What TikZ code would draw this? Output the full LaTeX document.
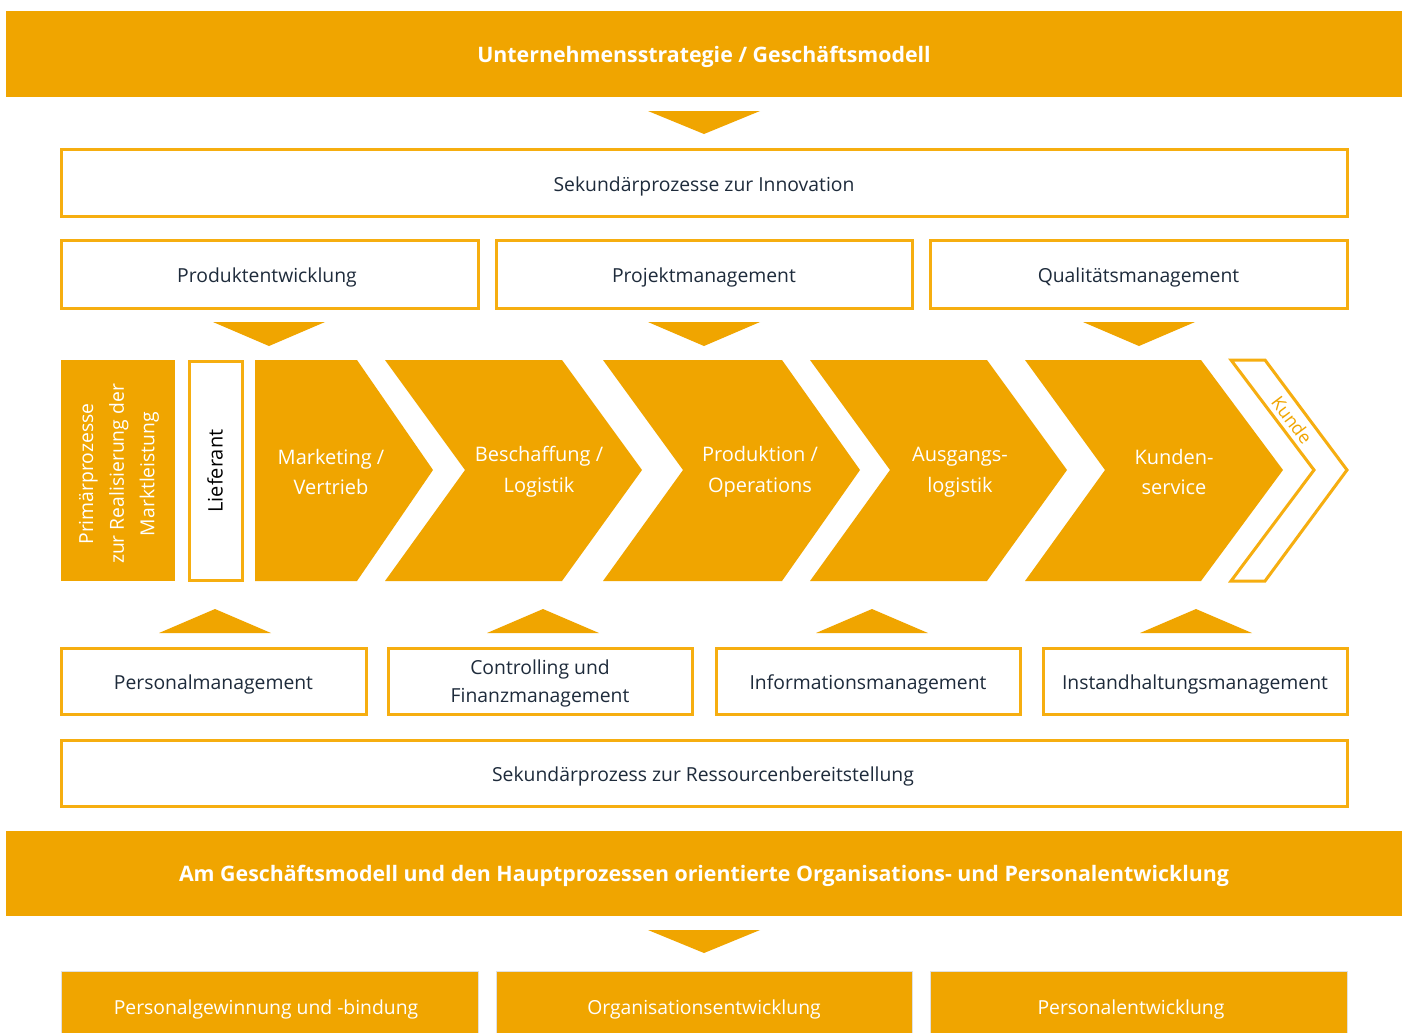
\documentclass[tikz,border=0pt]{standalone}
\usepackage{fontspec}
\setmainfont{Open Sans}
\definecolor{org}{HTML}{F0A500}
\definecolor{orgline}{HTML}{F6AE10}
\definecolor{navy}{HTML}{1E2B3B}
\begin{document}
\begin{tikzpicture}[x=0.75pt,y=-0.75pt,
  wbox/.style={draw=orgline, line width=2.25pt, fill=white, inner sep=0pt, minimum height=50pt},
  wtext/.style={text=navy, font=\fontsize{14.5}{21}\selectfont, align=center, inner sep=0pt},
  obar/.style={fill=org, inner sep=0pt, minimum width=1047pt},
  otext/.style={text=white, font=\bfseries\fontsize{16}{19}\selectfont, inner sep=0pt},
  obox/.style={fill=org, draw=black!12, line width=0.75pt, inner sep=0pt, minimum height=52.5pt},
  btext/.style={text=white, font=\fontsize{14.5}{17}\selectfont, inner sep=0pt},
  tri/.style={fill=org},
  chev/.style={fill=org},
  ctext/.style={text=white, font=\fontsize{15}{23}\selectfont, align=center, inner sep=0pt}]
\useasboundingbox[fill=white] (0,0) rectangle (1406,1032);

% top banner
\node[obar, minimum height=64.5pt] (strat) at (704,54) {};
\node[otext] (stratt) at (704,57) {Unternehmensstrategie / Geschäftsmodell};
\fill[tri] (648,111) -- (760,111) -- (704,134) -- cycle;

% innovation
\node[wbox, minimum width=964.5pt] (inno) at (704,183) {};
\node[wtext] (innot) at (704,186) {Sekundärprozesse zur Innovation};
\node[wbox, minimum width=312.75pt, minimum height=51pt] (prod) at (269.5,274) {};
\node[wtext] (prodt) at (267,277) {Produktentwicklung};
\node[wbox, minimum width=312pt, minimum height=51pt] (proj) at (704,274) {};
\node[wtext] (projt) at (704,277) {Projektmanagement};
\node[wbox, minimum width=312.75pt, minimum height=51pt] (qual) at (1138.5,274) {};
\node[wtext] (qualt) at (1138.5,277) {Qualitätsmanagement};
\foreach \c in {269,704,1139}
  \fill[tri] (\c-56,322) -- (\c+56,322) -- (\c,346) -- cycle;

% primary row
\node[fill=org, inner sep=0pt, minimum width=85.5pt, minimum height=165.75pt] (prim) at (118,470.5) {};
\node[text=white, rotate=90, align=center, font=\fontsize{14.5}{23}\selectfont, inner sep=0pt]
  (primtxt) at (119,474) {Primärprozesse\\zur Realisierung der\\Marktleistung};
\node[draw=orgline, line width=2.25pt, fill=white, inner sep=0pt, minimum width=39.75pt,
  minimum height=164.25pt] (lief) at (215.5,470.5) {};
\node[rotate=90, text=black, font=\fontsize{15}{18}\selectfont, inner sep=0pt] (lieftxt) at (215,471) {Lieferant};

\fill[chev] (255,360) -- (357,360) -- (433,470) -- (357,581) -- (255,581) -- cycle;
\fill[chev] (385,360) -- (562,360) -- (642,470) -- (562,581) -- (385,581) -- (465,470) -- cycle;
\fill[chev] (603,360) -- (782,360) -- (860,470) -- (782,581) -- (603,581) -- (683,470) -- cycle;
\fill[chev] (810,360) -- (987,360) -- (1067,470) -- (987,581) -- (810,581) -- (890,470) -- cycle;
\fill[chev] (1025,360) -- (1201,360) -- (1283,470) -- (1201,581) -- (1025,581) -- (1105,470) -- cycle;
\draw[orgline, line width=2.25pt, fill=white, line join=miter]
  (1231,360) -- (1265,360) -- (1347,470) -- (1265,581) -- (1231,581) -- (1314,470) -- cycle;

\node[ctext] (mkt) at (331,472) {Marketing /\\Vertrieb};
\node[ctext] (besch) at (539,472) {Beschaffung /\\Logistik};
\node[ctext] (produ) at (760,472) {Produktion /\\Operations};
\node[ctext] (ausg) at (960,472) {Ausgangs-\\logistik};
\node[ctext] (kund) at (1174,472) {Kunden-\\service};
\node[text=org, rotate=-53, font=\fontsize{13.5}{15}\selectfont, inner sep=0pt] (kunde) at (1292,420) {Kunde};

% resources
\foreach \c in {215,543,872,1196}
  \fill[tri] (\c-56,633) -- (\c+56,633) -- (\c,609) -- cycle;
\node[wbox, minimum width=228.75pt] (pers) at (213.5,681.5) {};
\node[wtext] (perst) at (213.5,684) {Personalmanagement};
\node[wbox, minimum width=228pt] (contr) at (540,681.5) {};
\node[wtext] (contrt) at (540,683.5) {Controlling und\\Finanzmanagement};
\node[wbox, minimum width=228pt] (info) at (868,681.5) {};
\node[wtext] (infot) at (868,684) {Informationsmanagement};
\node[wbox, minimum width=228pt] (inst) at (1195,681.5) {};
\node[wtext] (instt) at (1195,684) {Instandhaltungsmanagement};
\node[wbox, minimum width=964.5pt] (ress) at (704,773.5) {};
\node[wtext] (resst) at (703,776) {Sekundärprozess zur Ressourcenbereitstellung};

% bottom banner
\node[obar, minimum height=63.75pt] (orga) at (704,873.5) {};
\node[otext] (orgat) at (704,876) {Am Geschäftsmodell und den Hauptprozessen orientierte Organisations- und Personalentwicklung};
\fill[tri] (648,930) -- (760,930) -- (704,953) -- cycle;

\node[obox, minimum width=312.75pt] (gew) at (269.5,1006) {};
\node[btext] (gewt) at (266,1009) {Personalgewinnung und -bindung};
\node[obox, minimum width=312pt] (oe) at (704,1006) {};
\node[btext] (oet) at (704,1009) {Organisationsentwicklung};
\node[obox, minimum width=312.75pt] (pe) at (1138.5,1006) {};
\node[btext] (pet) at (1131,1009) {Personalentwicklung};
\end{tikzpicture}
\end{document}
